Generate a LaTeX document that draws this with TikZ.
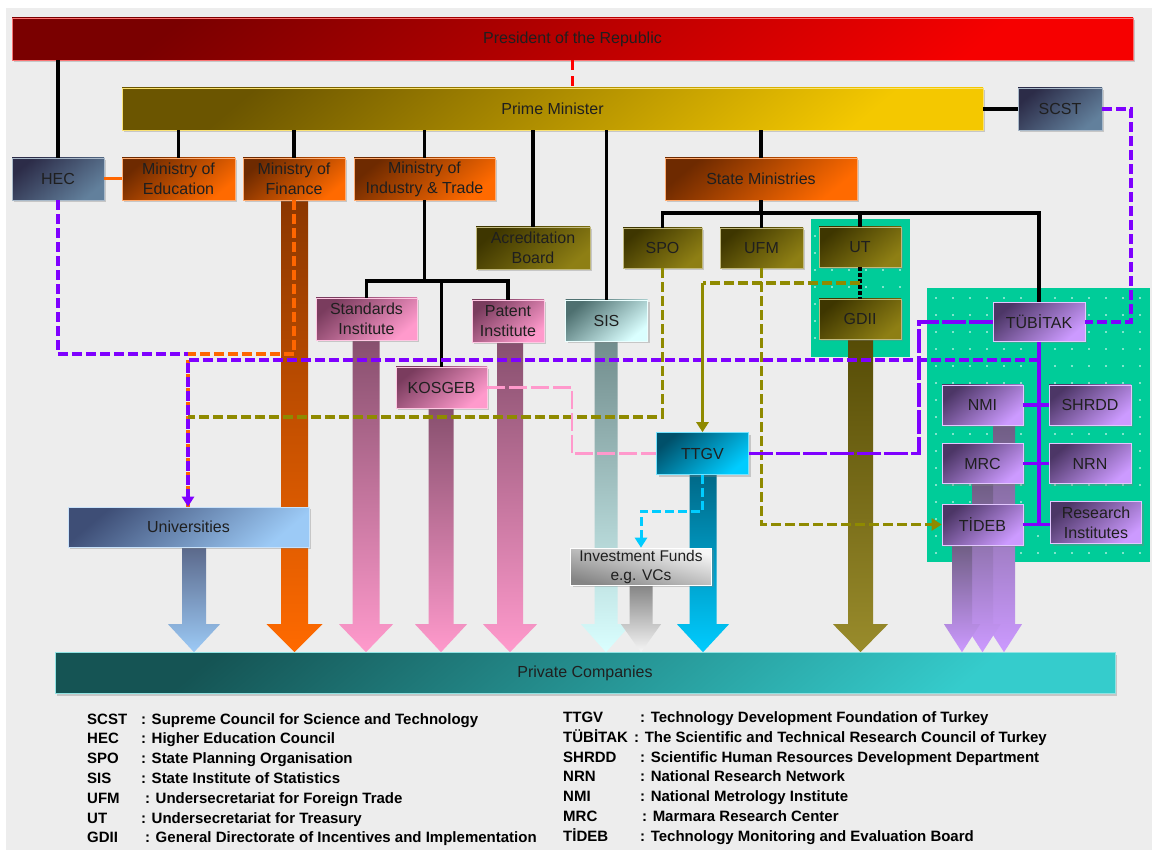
\documentclass[tikz,border=0pt]{standalone}
\usepackage{fontspec}
\setmainfont{Liberation Sans}
\usetikzlibrary{calc,arrows.meta,shadows}
\pgfdeclarelayer{bg}
\pgfdeclarelayer{arr}
\pgfsetlayers{bg,arr,main}

\definecolor{bggray}{HTML}{EDEDED}
\definecolor{grn}{HTML}{00CC99}
\definecolor{vio}{HTML}{7F00FF}
\definecolor{oliv}{HTML}{8F8A00}
\definecolor{orng}{HTML}{FF6600}
\definecolor{pnk}{HTML}{FF99CC}
\definecolor{cyn}{HTML}{00CCFF}
\definecolor{presA}{HTML}{7A0000}
\definecolor{presB}{HTML}{F60000}
\definecolor{pmA}{HTML}{6B5500}
\definecolor{pmB}{HTML}{F4C800}
\definecolor{slA}{HTML}{2C2C48}
\definecolor{slB}{HTML}{62809C}
\definecolor{orA}{HTML}{6E2A00}
\definecolor{orB}{HTML}{FF6A00}
\definecolor{olA}{HTML}{3E3600}
\definecolor{olB}{HTML}{8E7F14}
\definecolor{sisA}{HTML}{4E7070}
\definecolor{sisB}{HTML}{DAFFFF}
\definecolor{pkA}{HTML}{7A3C5E}
\definecolor{pkB}{HTML}{FF9ACC}
\definecolor{tgA}{HTML}{00506A}
\definecolor{tgB}{HTML}{00CCFF}
\definecolor{unA}{HTML}{3E4E76}
\definecolor{unB}{HTML}{9CCAF6}
\definecolor{ivA}{HTML}{F6F6F6}
\definecolor{ivB}{HTML}{858585}
\definecolor{puA}{HTML}{4C3666}
\definecolor{puB}{HTML}{CC9AFF}
\definecolor{pcA}{HTML}{155454}
\definecolor{pcB}{HTML}{35CCCC}

\newcommand\boxfont{\fontsize{16}{20}\selectfont}
\newcommand\legfont{\fontsize{15}{18}\selectfont\bfseries}

% big vertical arrow from a node down to the Private Companies bar
% #1 node, #2 xshift, #3 top colour, #4 bottom colour, #5 half shaft, #6 half head
\newcommand\bigarr[6]{%
  \shade[top color=#3, bottom color=#4]
    let \p1=($(#1.south)+(#2,0)$), \p2=(pc.north) in
    (\x1-#5pt,\y1) -- (\x1+#5pt,\y1) -- (\x1+#5pt,\y2+28pt) -- (\x1+#6pt,\y2+28pt)
    -- (\x1,\y2) -- (\x1-#6pt,\y2+28pt) -- (\x1-#5pt,\y2+28pt) -- cycle;}

\tikzset{
  sz/.style 2 args={minimum width=#1pt, minimum height=#2pt},
  bx/.style={rectangle, inner sep=0pt, align=center, font=\boxfont, text=black!88,
    line width=0.6pt, drop shadow={shadow xshift=2pt, shadow yshift=-2pt, opacity=0.35}},
  shd/.style 2 args={top color=#1, bottom color=#2, shading angle=40, draw=#2!55!white},
  leg/.style={inner sep=0pt, anchor=base west, font=\legfont, text=black},
  blk/.style={draw=black, line width=3.6pt},
  vdash/.style={draw=vio, line width=3.2pt, dash pattern=on 10pt off 4pt},
  odash/.style={draw=oliv, line width=3.2pt, dash pattern=on 10pt off 4pt},
  ordash/.style={draw=orng, line width=3.2pt, dash pattern=on 10pt off 4pt},
  pdash/.style={draw=pnk, line width=2.8pt, dash pattern=on 18pt off 4pt},
  cdash/.style={draw=cyn, line width=3pt, dash pattern=on 9pt off 4pt},
  arrtip/.style={-{Triangle[width=12pt,length=10pt]}},
}

\begin{document}
\begin{tikzpicture}[x=1pt,y=-1pt]
\useasboundingbox (0,0) rectangle (1152,850);

\begin{pgfonlayer}{bg}
  \fill[white] (0,0) rectangle (1152,850);
  \fill[bggray] (6,8) rectangle (1152,850);
  \fill[grn] (811,219) rectangle (910,357);
  \fill[grn] (927,288) rectangle (1150,562);
  \foreach \x in {815,832,...,906} \foreach \y in {236,253,...,352}
    \fill[white] (\x,\y) circle (0.9);
  \foreach \x in {936,953,...,1148} \foreach \y in {298,315,...,558}
    \fill[white] (\x,\y) circle (0.9);
\end{pgfonlayer}

% ---------- nodes ----------
\node[bx, sz={1121}{42}, shd={presA}{presB}] (pres) at (572.5,39) {President of the Republic};
\node[bx, sz={861}{42}, shd={pmA}{pmB}] (pm) at (552.5,109) {Prime Minister};
\node[bx, sz={84}{42}, shd={slA}{slB}] (scst) at (1060,109) {SCST};
\node[bx, sz={92}{42}, shd={slA}{slB}] (hec) at (58,179) {HEC};
\node[bx, sz={113}{42}, shd={orA}{orB}] (moe) at (178.5,179) {Ministry of\\Education};
\node[bx, sz={102}{42}, shd={orA}{orB}] (mof) at (294,179) {Ministry of\\Finance};
\node[bx, sz={141}{42}, shd={orA}{orB}] (mit) at (424.5,179) {Ministry of\\Industry \& Trade};
\node[bx, sz={192}{42}, shd={orA}{orB}] (sm) at (761,179) {State Ministries};
\node[bx, sz={114}{42}, shd={olA}{olB}] (acc) at (533,248) {Acreditation\\Board};
\node[bx, sz={79}{40}, shd={olA}{olB}] (spo) at (662.5,248) {SPO};
\node[bx, sz={83}{40}, shd={olA}{olB}] (ufm) at (761.5,248) {UFM};
\node[bx, sz={82}{40}, shd={olA}{olB}] (ut) at (860,247) {UT};
\node[bx, sz={82}{40}, shd={olA}{olB}] (gdii) at (860,319) {GDII};
\node[bx, sz={82}{41}, shd={sisA}{sisB}] (sis) at (606.5,320.5) {SIS};
\node[bx, sz={101}{42}, shd={pkA}{pkB}] (std) at (366.5,319) {Standards\\Institute};
\node[bx, sz={72}{42}, shd={pkA}{pkB}] (pat) at (508,321) {Patent\\Institute};
\node[bx, sz={91}{41}, shd={pkA}{pkB}] (kos) at (441.5,387.5) {KOSGEB};
\node[bx, sz={92}{42}, shd={tgA}{tgB}] (ttgv) at (702.5,453.5) {TTGV};
\node[bx, sz={141}{37}, top color=ivA, bottom color=ivB, shading angle=-15, draw=white,
      font=\fontsize{15.5}{19}\selectfont] (inv) at (641,566.5) {Investment Funds\\e.g. VCs};
\node[bx, sz={241}{40}, shd={unA}{unB}] (uni) at (188.5,527) {Universities};
\node[bx, sz={92}{39}, shd={puA}{puB}] (tub) at (1039,322) {TÜBİTAK};
\node[bx, sz={81}{40}, shd={puA}{puB}] (nmi) at (982.5,405) {NMI};
\node[bx, sz={82}{40}, shd={puA}{puB}] (shrdd) at (1090,405) {SHRDD};
\node[bx, sz={81}{40}, shd={puA}{puB}] (mrc) at (982.5,463.5) {MRC};
\node[bx, sz={82}{40}, shd={puA}{puB}] (nrn) at (1090,463.5) {NRN};
\node[bx, sz={81}{41}, shd={puA}{puB}] (tideb) at (982.5,524.5) {TİDEB};
\node[bx, sz={91}{42}, shd={puA}{puB}] (ri) at (1096,522.5) {Research\\Institutes};
\node[bx, sz={1060}{41}, shd={pcA}{pcB}] (pc) at (585,673) {Private Companies};

% ---------- big arrows to Private Companies ----------
\begin{pgfonlayer}{arr}
  \bigarr{uni}{5.5}{unA!85!white}{unB}{12}{26}
  \bigarr{mof}{0.5}{orA!80!orB}{orB}{13.5}{28}
  \bigarr{std}{-0.5}{pkA!90!white}{pkB}{13.5}{27}
  \bigarr{kos}{-0.5}{pkA!90!white}{pkB}{12.5}{26}
  \bigarr{pat}{2}{pkA!90!white}{pkB}{13}{27}
  \bigarr{sis}{-0.5}{sisA!80!white}{sisB}{11.5}{25}
  \bigarr{inv}{0}{ivB}{ivA}{11.5}{20}
  \bigarr{ttgv}{0.5}{tgA!80!tgB}{tgB}{13.5}{26}
  \bigarr{gdii}{0.5}{olA!70!olB}{olB!90!white}{12.5}{27.5}
  \bigarr{nmi}{21.5}{puA!80!white}{puB}{11}{18}
  \bigarr{mrc}{0}{puA!80!white}{puB}{10.5}{18}
  \bigarr{tideb}{-20.5}{puA!80!white}{puB}{10}{18}
\end{pgfonlayer}

% ---------- solid hierarchy lines ----------
\draw[blk] (hec.north) -- (hec.north |- pres.south);
\draw[draw=red, line width=3.4pt, dash pattern=on 10pt off 6pt] (pres.south) -- (pres.south |- pm.north);
\draw[blk] (moe.north) -- (moe.north |- pm.south);
\draw[blk] (mof.north) -- (mof.north |- pm.south);
\draw[blk] (mit.north) -- (mit.north |- pm.south);
\draw[blk] (acc.north) -- (acc.north |- pm.south);
\draw[blk] (sis.north) -- (sis.north |- pm.south);
\draw[blk] (sm.north) -- (sm.north |- pm.south);
\draw[blk] (pm.east) -- (scst.west);
\coordinate (bus) at (0,213);
\draw[blk] (sm.south) -- (sm.south |- bus);
\draw[blk] (spo.north) -- (spo.north |- bus) -- (tub.north |- bus) -- (tub.north);
\draw[blk] (ufm.north) -- (ufm.north |- bus);
\draw[blk] (ut.north) -- (ut.north |- bus);
\coordinate (ibus) at (0,281);
\draw[blk] (mit.south) -- (mit.south |- ibus);
\draw[blk] (std.north) -- (std.north |- ibus) -- (pat.north |- ibus) -- (pat.north);
\draw[blk] (kos.north) -- (kos.north |- ibus);
\draw[draw=black, line width=3.2pt, dash pattern=on 4pt off 2pt] (ut.south) -- (gdii.north);
\draw[draw=orng, line width=3pt] (hec.east) -- (moe.west);

% ---------- TUBITAK tree ----------
\draw[draw=vio, line width=3.4pt] (tub.south) -- (tub.south |- tideb.east);
\draw[draw=vio, line width=3.4pt] (nmi.east) -- (shrdd.west);
\draw[draw=vio, line width=3.4pt] (mrc.east) -- (nrn.west);
\draw[draw=vio, line width=3.4pt] (tideb.east) -- (tideb.east -| ri.west);

% ---------- dashed relations ----------
\coordinate (j1) at (188,354);
\coordinate (j2) at (188,360);
\coordinate (j3) at (188,417);
\draw[ordash] (mof.south) -- (mof.south |- j1) -- (j1) -- (uni.north -| j1);
\draw[vdash] (hec.south) |- (j1);
\draw[vdash, arrtip] (tub.south |- j2) -- (j2) -- (uni.north -| j2);
\draw[odash] (spo.south) |- (j3);
\coordinate (utm) at ($(ut.south)!0.5!(gdii.north)$);
\draw[odash] (utm) -- (utm -| ttgv.north);
\draw[draw=oliv, line width=3.2pt, arrtip] (utm -| ttgv.north) -- (ttgv.north);
\draw[odash, arrtip] (ufm.south) |- (tideb.west);
\coordinate (pk) at (572,0);
\draw[pdash] (kos.east) -| (pk |- ttgv.west) -- (ttgv.west);
\coordinate (cy) at (0,511);
\draw[cdash, arrtip] (ttgv.south) -- (ttgv.south |- cy) -| (inv.north);
\coordinate (tv) at (919,0);
\draw[draw=vio, line width=3.2pt, dash pattern=on 24pt off 3pt] (tub.west) -| (tv |- ttgv.east) -- (ttgv.east);
\coordinate (sc) at (1131,0);
\draw[vdash] (scst.east) -| (sc |- tub.east) -- (tub.east);

% ---------- legend ----------
\node[leg] (la1) at (87,724) {SCST};
\node[leg] (lb1) at (141,724) {: Supreme Council for Science and Technology};
\node[leg] (la2) at (87,743.8) {HEC};
\node[leg] (lb2) at (141,743.8) {: Higher Education Council};
\node[leg] (la3) at (87,763.6) {SPO};
\node[leg] (lb3) at (141,763.6) {: State Planning Organisation};
\node[leg] (la4) at (87,783.4) {SIS};
\node[leg] (lb4) at (141,783.4) {: State Institute of Statistics};
\node[leg] (la5) at (87,803.2) {UFM};
\node[leg] (lb5) at (145,803.2) {: Undersecretariat for Foreign Trade};
\node[leg] (la6) at (87,823) {UT};
\node[leg] (lb6) at (141,823) {: Undersecretariat for Treasury};
\node[leg] (la7) at (87,842.8) {GDII};
\node[leg] (lb7) at (145,842.8) {: General Directorate of Incentives and Implementation};

\node[leg] (ra1) at (563,722.5) {TTGV};
\node[leg] (rb1) at (640,722.5) {: Technology Development Foundation of Turkey};
\node[leg] (ra2) at (563,742.3) {TÜBİTAK};
\node[leg] (rb2) at (634,742.3) {: The Scientific and Technical Research Council of Turkey};
\node[leg] (ra3) at (563,762.1) {SHRDD};
\node[leg] (rb3) at (640,762.1) {: Scientific Human Resources Development Department};
\node[leg] (ra4) at (563,781.9) {NRN};
\node[leg] (rb4) at (640,781.9) {: National Research Network};
\node[leg] (ra5) at (563,801.7) {NMI};
\node[leg] (rb5) at (640,801.7) {: National Metrology Institute};
\node[leg] (ra6) at (563,821.5) {MRC};
\node[leg] (rb6) at (642,821.5) {: Marmara Research Center};
\node[leg] (ra7) at (563,841.3) {TİDEB};
\node[leg] (rb7) at (640,841.3) {: Technology Monitoring and Evaluation Board};
\end{tikzpicture}
\end{document}
